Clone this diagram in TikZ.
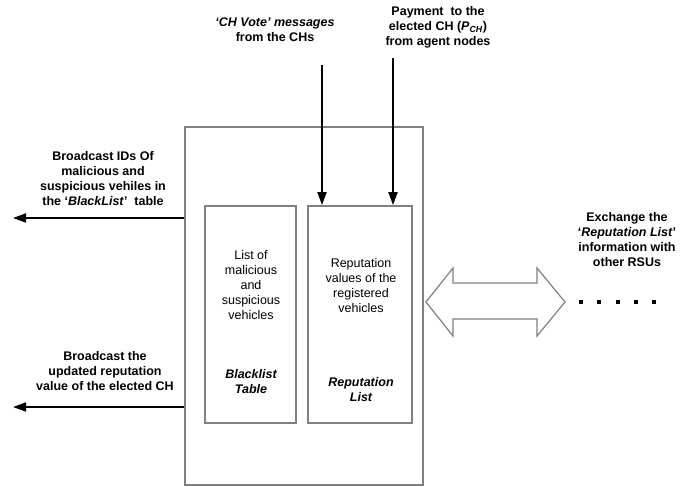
\documentclass[tikz,border=0pt]{standalone}
\usepackage{fontspec}
\setmainfont{Liberation Sans}
\usepackage{tikz}
\usetikzlibrary{positioning, arrows.meta, calc}

\begin{document}
\begin{tikzpicture}[
  x=1pt, y=-1pt,
  font=\fontsize{12.5}{15}\selectfont,
  box/.style={draw=black!50, line width=1.8pt, minimum width=#1, inner sep=0pt},
  lbl/.style={align=center, font=\fontsize{12.5}{15}\selectfont\bfseries},
  arr/.style={draw, line width=1.8pt, -{Triangle[length=13pt, width=9pt]}},
  dot/.style={fill, minimum size=3.6pt, inner sep=0pt}
]
\useasboundingbox (0,0) rectangle (680,487);
% RSU box with the two tables inside
\node[box=238pt, minimum height=358pt] (rsu) at (304,306) {};
\node[box=91pt, minimum height=217pt] (blk) at (250.5,314.5) {};
\node[box=104pt, minimum height=217pt] (rep) at (360,314.5) {};
% table contents
\node[align=center] (blktxt) at (251,285) {List of\\malicious\\and\\suspicious\\vehicles};
\node[lbl, font=\fontsize{12.5}{15}\selectfont\bfseries\itshape] (blkname) at (251,381.5) {Blacklist\\Table};
\node[align=center] (reptxt) at (361,285.5) {Reputation\\values of the\\registered\\vehicles};
\node[lbl, font=\fontsize{12.5}{15}\selectfont\bfseries\itshape] (repname) at (361,389.5) {Reputation\\List};
% incoming messages from the top
\node[lbl] (vote) at (275,29.5) {\textit{`CH Vote' messages}\\from the CHs};
\node[lbl] (pay) at (438,27.5) {Payment\ \ to the\\elected CH (\textit{P}\textsubscript{\textit{CH}})\\from agent nodes};
\coordinate (votein) at (322,65);
\coordinate (payin) at (393,58);
\draw[arr] (votein) -- (votein |- rep.north);
\draw[arr] (payin) -- (payin |- rep.north);
% broadcasts to the left
\node[lbl] (bc1) at (103,178.5) {Broadcast IDs Of\\malicious and\\suspicious vehiles in\\the `\textit{BlackList}'\ \ table};
\node[lbl] (bc2) at (105,371.5) {Broadcast the\\updated reputation\\value of the elected CH};
\coordinate (bc1out) at (13,218);
\coordinate (bc2out) at (13,407);
\draw[arr] (rsu.west |- bc1out) -- (bc1out);
\draw[arr] (rsu.west |- bc2out) -- (bc2out);
% exchange with other RSUs
\node[lbl] (xchg) at (627,240) {Exchange the\\`\textit{Reputation List}'\\information with\\other RSUs};
\draw[draw=black!50, line width=1.2pt, line join=miter]
  (426,302) -- (453,268) -- (453,283) -- (537,283) -- (537,268) -- (565,302)
  -- (537,336) -- (537,319) -- (453,319) -- (453,336) -- cycle;
\foreach \i [count=\k] in {581,599,618,636,654}
  \node[dot] (d\k) at (\i,302) {};
\end{tikzpicture}
\end{document}
